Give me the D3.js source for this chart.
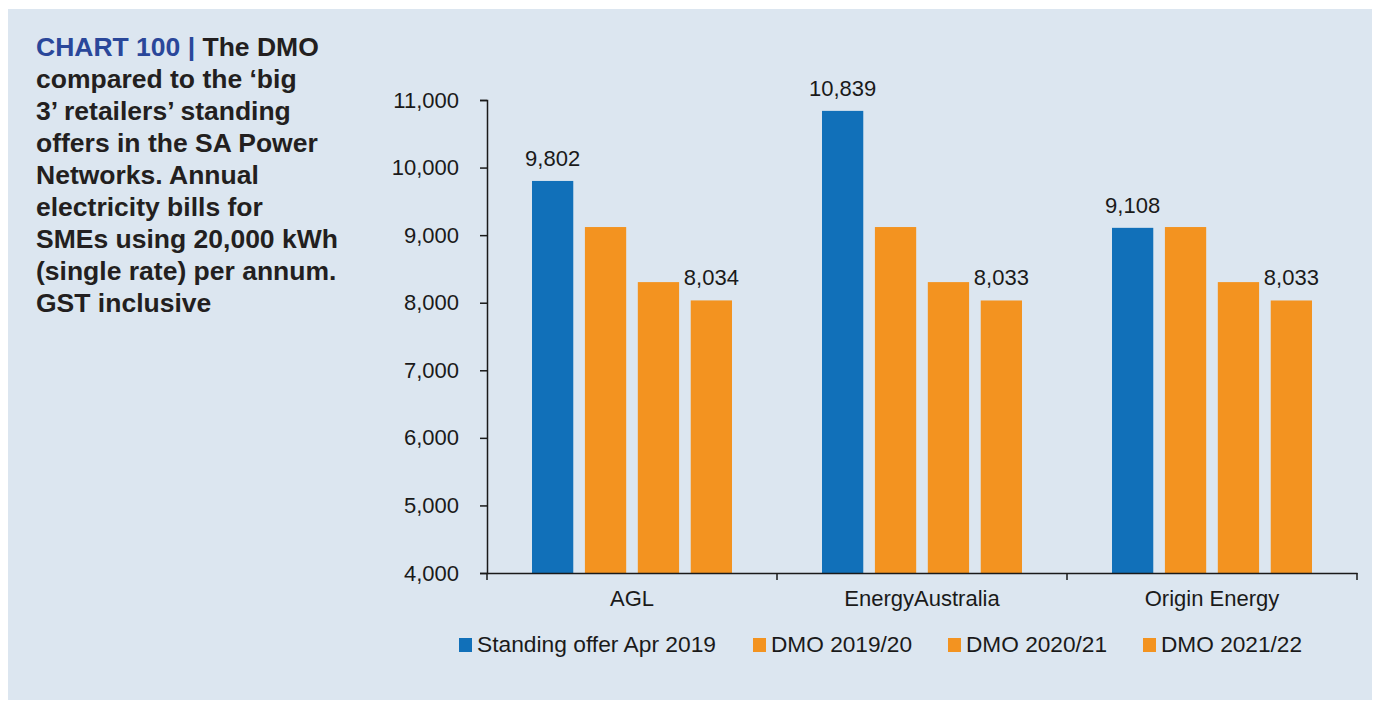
<!DOCTYPE html>
<html><head><meta charset="utf-8">
<script src="https://cdn.jsdelivr.net/npm/d3@7"></script>
<style>
html,body{margin:0;padding:0;background:#fff;}
svg{display:block;}
text{font-family:"Liberation Sans",Arial,Helvetica,sans-serif;}
</style></head>
<body>
<svg id="chart" width="1381" height="709"></svg>
<script>
const categories = ["AGL", "EnergyAustralia", "Origin Energy"];
const seriesNames = ["Standing offer Apr 2019", "DMO 2019/20", "DMO 2020/21", "DMO 2021/22"];
const standingOffer = [9802, 10839, 9108];
const dmo1920 = [9120, 9120, 9120];
const dmo2021 = [8305, 8305, 8305];
const dmo2122 = [8034, 8033, 8033];
const labelledSeries = [0, 3];
const yTicks = [4000, 5000, 6000, 7000, 8000, 9000, 10000, 11000];
const titleLines = [
  "The DMO",
  "compared to the \u2018big",
  "3\u2019 retailers\u2019 standing",
  "offers in the SA Power",
  "Networks. Annual",
  "electricity bills for",
  "SMEs using 20,000 kWh",
  "(single rate) per annum.",
  "GST inclusive"
];
const seriesValues = [standingOffer, dmo1920, dmo2021, dmo2122];
const colors = ["#1170b9", "#f39320", "#f39320", "#f39320"];
const FONT = "Liberation Sans, Arial, sans-serif";

const svg = d3.select("#chart");
svg.append("rect").attr("x", 8).attr("y", 9).attr("width", 1364).attr("height", 691).attr("fill", "#dce6f0");

// Title
const title = svg.append("text").attr("x", 36).attr("y", 56)
  .attr("font-size", 26.5).attr("font-weight", "bold").attr("fill", "#231f20");
titleLines.forEach((l, i) => {
  const t = title.append("tspan").attr("x", 36).attr("y", 56 + i * 32);
  if (i === 0) {
    t.append("tspan").attr("fill", "#2a479a").text("CHART 100 | ");
  }
  t.append("tspan").text(l);
});

const x0 = d3.scaleBand().domain(categories).range([487, 1357]).paddingInner(0).paddingOuter(0);
const x1 = d3.scaleBand().domain(d3.range(seriesNames.length)).range([45, 245]).paddingInner(0.22).paddingOuter(0);
const y = d3.scaleLinear().domain([4000, 11000]).range([573, 100]);

// Bars
const groups = svg.append("g").selectAll("g").data(categories).join("g")
  .attr("transform", d => `translate(${x0(d)},0)`);
groups.each(function(cat, ci) {
  const g = d3.select(this);
  seriesValues.forEach((vals, si) => {
    g.append("rect")
      .attr("x", x1(si)).attr("width", x1.bandwidth())
      .attr("y", y(vals[ci])).attr("height", y(4000) - y(vals[ci]))
      .attr("fill", colors[si]);
    if (labelledSeries.includes(si)) {
      g.append("text").attr("x", x1(si) + x1.bandwidth() / 2).attr("y", y(vals[ci]) - 15)
        .attr("text-anchor", "middle").attr("font-size", 22).attr("fill", "#1a1a1a")
        .text(d3.format(",")(vals[ci]));
    }
  });
});

// Y axis
const yAxis = svg.append("g").attr("transform", "translate(487,0)")
  .call(d3.axisLeft(y).tickValues(yTicks).tickFormat(d3.format(",")).tickSize(7).tickPadding(21));
yAxis.select(".domain").attr("stroke", "#1a1a1a").attr("stroke-width", 1.5);
yAxis.selectAll(".tick line").attr("stroke", "#1a1a1a").attr("stroke-width", 1.5);
yAxis.selectAll(".tick text").attr("font-size", 22).attr("fill", "#1a1a1a").attr("font-family", FONT);

// X axis
const xAxis = svg.append("g").attr("transform", "translate(0,573)")
  .call(d3.axisBottom(x0).tickSize(0).tickPadding(17));
xAxis.select(".domain").attr("stroke", "#1a1a1a").attr("stroke-width", 1.5);
xAxis.selectAll(".tick text").attr("font-size", 22).attr("fill", "#1a1a1a").attr("font-family", FONT);
const bounds = categories.map(c => x0(c)).concat([x0.range()[1]]);
svg.append("g").selectAll("line").data(bounds).join("line")
  .attr("x1", d => d).attr("x2", d => d).attr("y1", 573).attr("y2", 580)
  .attr("stroke", "#1a1a1a").attr("stroke-width", 1.5);

// Legend
const legendX = [459, 753, 948, 1143];
const legend = svg.append("g").selectAll("g").data(seriesNames).join("g")
  .attr("transform", (d, i) => `translate(${legendX[i]},638)`);
legend.append("rect").attr("width", 13).attr("height", 14).attr("fill", (d, i) => colors[i]);
legend.append("text").attr("x", 18).attr("y", 14).attr("font-size", 21.5).attr("fill", "#1a1a1a")
  .attr("textLength", (d, i) => [239, 141, 141, 141][i]).attr("lengthAdjust", "spacingAndGlyphs")
  .text(d => d);
</script>
</body></html>
